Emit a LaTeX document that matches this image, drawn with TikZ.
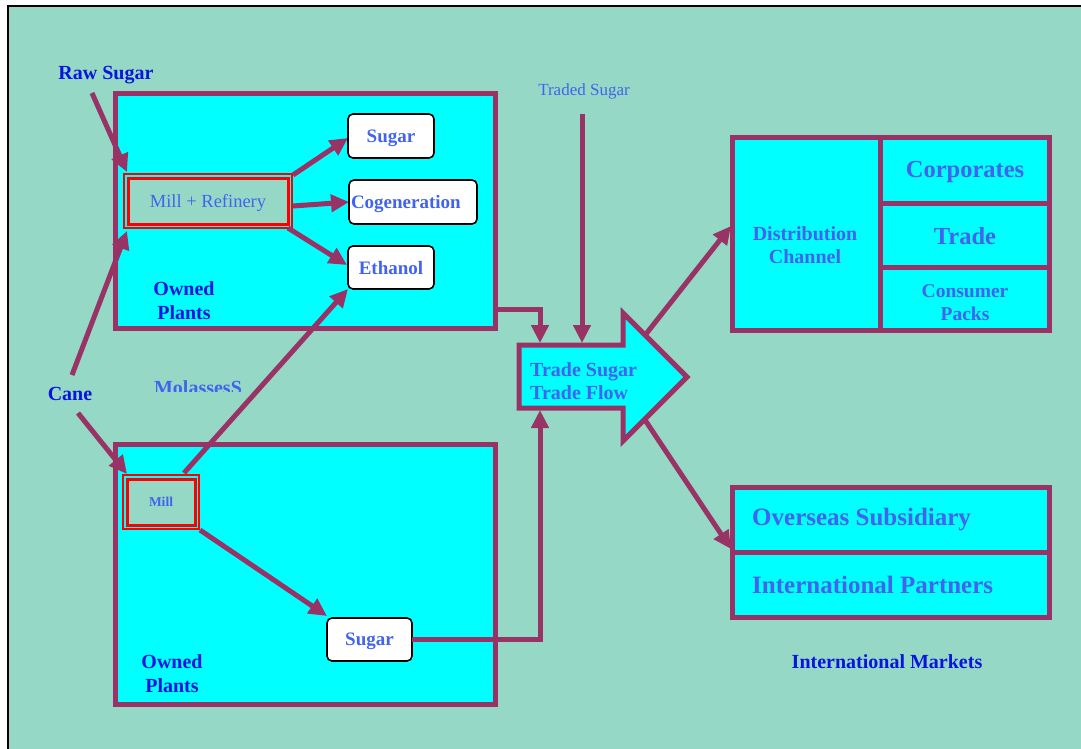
\documentclass[tikz,border=0pt]{standalone}
\usepackage{fontspec}
\setmainfont{Liberation Serif}
\usetikzlibrary{arrows.meta}
\definecolor{bg}{HTML}{95D8C5}
\definecolor{maroon}{HTML}{993366}
\definecolor{lblue}{HTML}{4263EE}
\definecolor{dblue}{HTML}{0A14DC}
\definecolor{cyanfill}{HTML}{00FFFF}
\begin{document}
\begin{tikzpicture}[x=1pt,y=-1pt,
  plant/.style={draw=maroon, fill=cyanfill, line width=5pt, inner sep=0pt, outer sep=0pt, rectangle},
  wbox/.style={draw=black, fill=white, rounded corners=5pt, line width=1.6pt, inner sep=0pt, outer sep=0pt,
    text=lblue, text depth=0pt, font=\bfseries\fontsize{19}{22}\selectfont},
  millbox/.style={draw=red, line width=3pt, fill=bg, inner sep=0pt, outer sep=0pt, text=lblue, text depth=0pt},
  millouter/.style={draw=red, line width=1.3pt},
  dlabel/.style={text=dblue, font=\bfseries\fontsize{20}{24}\selectfont, align=center, inner sep=0pt},
  llabel/.style={text=lblue, font=\bfseries\fontsize{20}{23}\selectfont, align=center, inner sep=0pt},
  flowarrow/.style={draw=maroon, line width=5pt, -{Triangle[length=18pt,width=17pt]}},
  flowline/.style={draw=maroon, line width=5pt}
]
\useasboundingbox (0,0) rectangle (1081,749);
\fill[white] (0,0) rectangle (1081,749);
\fill[bg] (8,6) rectangle (1081,749);
\draw[black, line width=1.5pt] (8,749) -- (8,6) -- (1081,6);

% plant boxes
\node[plant, minimum width=380pt, minimum height=235pt] (plantA) at (305.5,211) {};
\node[plant, minimum width=380pt, minimum height=260pt] (plantB) at (305.5,574.5) {};

% distribution box
\node[plant, minimum width=317pt, minimum height=193pt] (dist) at (891,234) {};
\draw[flowline] (880,137.5) -- (880,330.5);
\draw[flowline] (880,203) -- (1049.5,203);
\draw[flowline] (880,267) -- (1049.5,267);

% overseas box
\node[plant, minimum width=317.5pt, minimum height=130pt] (over) at (890.75,552) {};
\draw[flowline] (732,552) -- (1049.5,552);

% trade flow block arrow
\filldraw[draw=maroon, fill=cyanfill, line width=5pt, line join=miter]
  (519,345) -- (623,345) -- (623,313) -- (687,377) -- (623,441) -- (623,408) -- (519,408) -- cycle;
\coordinate (flowTopA) at (540,343);
\coordinate (flowTopB) at (582,343);
\coordinate (flowBot) at (540,410);
\coordinate (flowHeadUp) at (646,334);
\coordinate (flowHeadDn) at (645,420);
\node[llabel, align=left, anchor=west] (flowtxt) at (530,381) {Trade Sugar\\Trade Flow};

% inner boxes
\node[millbox, minimum width=160pt, minimum height=46pt,
  font=\fontsize{18.5}{22}\selectfont] (mr) at (208,201) {Mill + Refinery};
\draw[millouter] ([shift={(-4,4)}]mr.south west) rectangle ([shift={(4,-4)}]mr.north east);
\node[millbox, minimum width=68pt, minimum height=46pt,
  font=\bfseries\fontsize{13.5}{16}\selectfont] (mill) at (161,502) {Mill};
\draw[millouter] ([shift={(-4,4)}]mill.south west) rectangle ([shift={(4,-4)}]mill.north east);
\node[wbox, minimum width=86pt, minimum height=44pt] (sugarA) at (391,136) {Sugar};
\node[wbox, minimum width=128pt, minimum height=44pt, text width=124pt, align=left] (cogen) at (413,202) {Cogeneration};
\node[wbox, minimum width=86pt, minimum height=43pt] (ethanol) at (391,267.5) {Ethanol};
\node[wbox, minimum width=85pt, minimum height=43pt] (sugarB) at (369.5,639.5) {Sugar};

% labels
\node[dlabel] (raw) at (106,75) {Raw Sugar};
\node[dlabel] (cane) at (70,394) {Cane};
\node[dlabel] (ownA) at (184,301) {Owned\\Plants};
\node[dlabel] (ownB) at (172,674) {Owned\\Plants};
\node[dlabel] (intl) at (887,662) {International Markets};
\node[text=lblue, font=\fontsize{17}{20}\selectfont, inner sep=0pt] (traded) at (584,91) {Traded Sugar};
\begin{scope}
  \clip (100,360) rectangle (300,391);
  \node[llabel] (molasses) at (198,388) {MolassesS};
\end{scope}
\node[llabel] (distxt) at (805,245) {Distribution\\Channel};
\node[llabel, font=\bfseries\fontsize{24.5}{28}\selectfont] (corp) at (965,172) {Corporates};
\node[llabel, font=\bfseries\fontsize{24.5}{28}\selectfont] (trade) at (965,236) {Trade};
\node[llabel, font=\bfseries\fontsize{19.5}{23}\selectfont] (cons) at (965,303) {Consumer\\Packs};
\node[llabel, anchor=west, font=\bfseries\fontsize{25}{28}\selectfont] (overtxt) at (752,520) {Overseas Subsidiary};
\node[llabel, anchor=west, font=\bfseries\fontsize{25}{28}\selectfont] (partners) at (752,585) {International Partners};

% connectors
\draw[flowarrow] ([shift={(-14,18)}]raw.center) -- ([shift={(-1,-6)}]mr.north west);
\draw[flowarrow] ([shift={(2,-19)}]cane.center) -- ([shift={(-1,7)}]mr.south west);
\draw[flowarrow] ([shift={(8,19)}]cane.center) -- ([shift={(0,-5)}]mill.north west);
\draw[flowarrow] ([shift={(5,-3)}]mr.north east) -- ([shift={(0,2)}]sugarA.west);
\draw[flowarrow] ([shift={(5,5)}]mr.east) -- (cogen.west);
\draw[flowarrow] ([shift={(0,4)}]mr.south east) -- ([shift={(-1,-2.5)}]ethanol.west);
\draw[flowarrow] ([shift={(-11,-6)}]mill.north east) -- (ethanol.south west);
\draw[flowarrow] ([shift={(5,5)}]mill.south east) -- ([shift={(0,-2)}]sugarB.north west);
\draw[flowarrow] (sugarB.east) -| (flowBot);
\draw[flowarrow] ([yshift=-98pt]plantA.east) -| (flowTopA);
\draw[flowarrow] ([shift={(-2,23)}]traded.center) -- (flowTopB);
\draw[flowarrow] (flowHeadUp) -- ([shift={(-1.5,-8)}]dist.west);
\draw[flowarrow] (flowHeadDn) -- ([shift={(-1,-3)}]over.west);
\end{tikzpicture}
\end{document}
